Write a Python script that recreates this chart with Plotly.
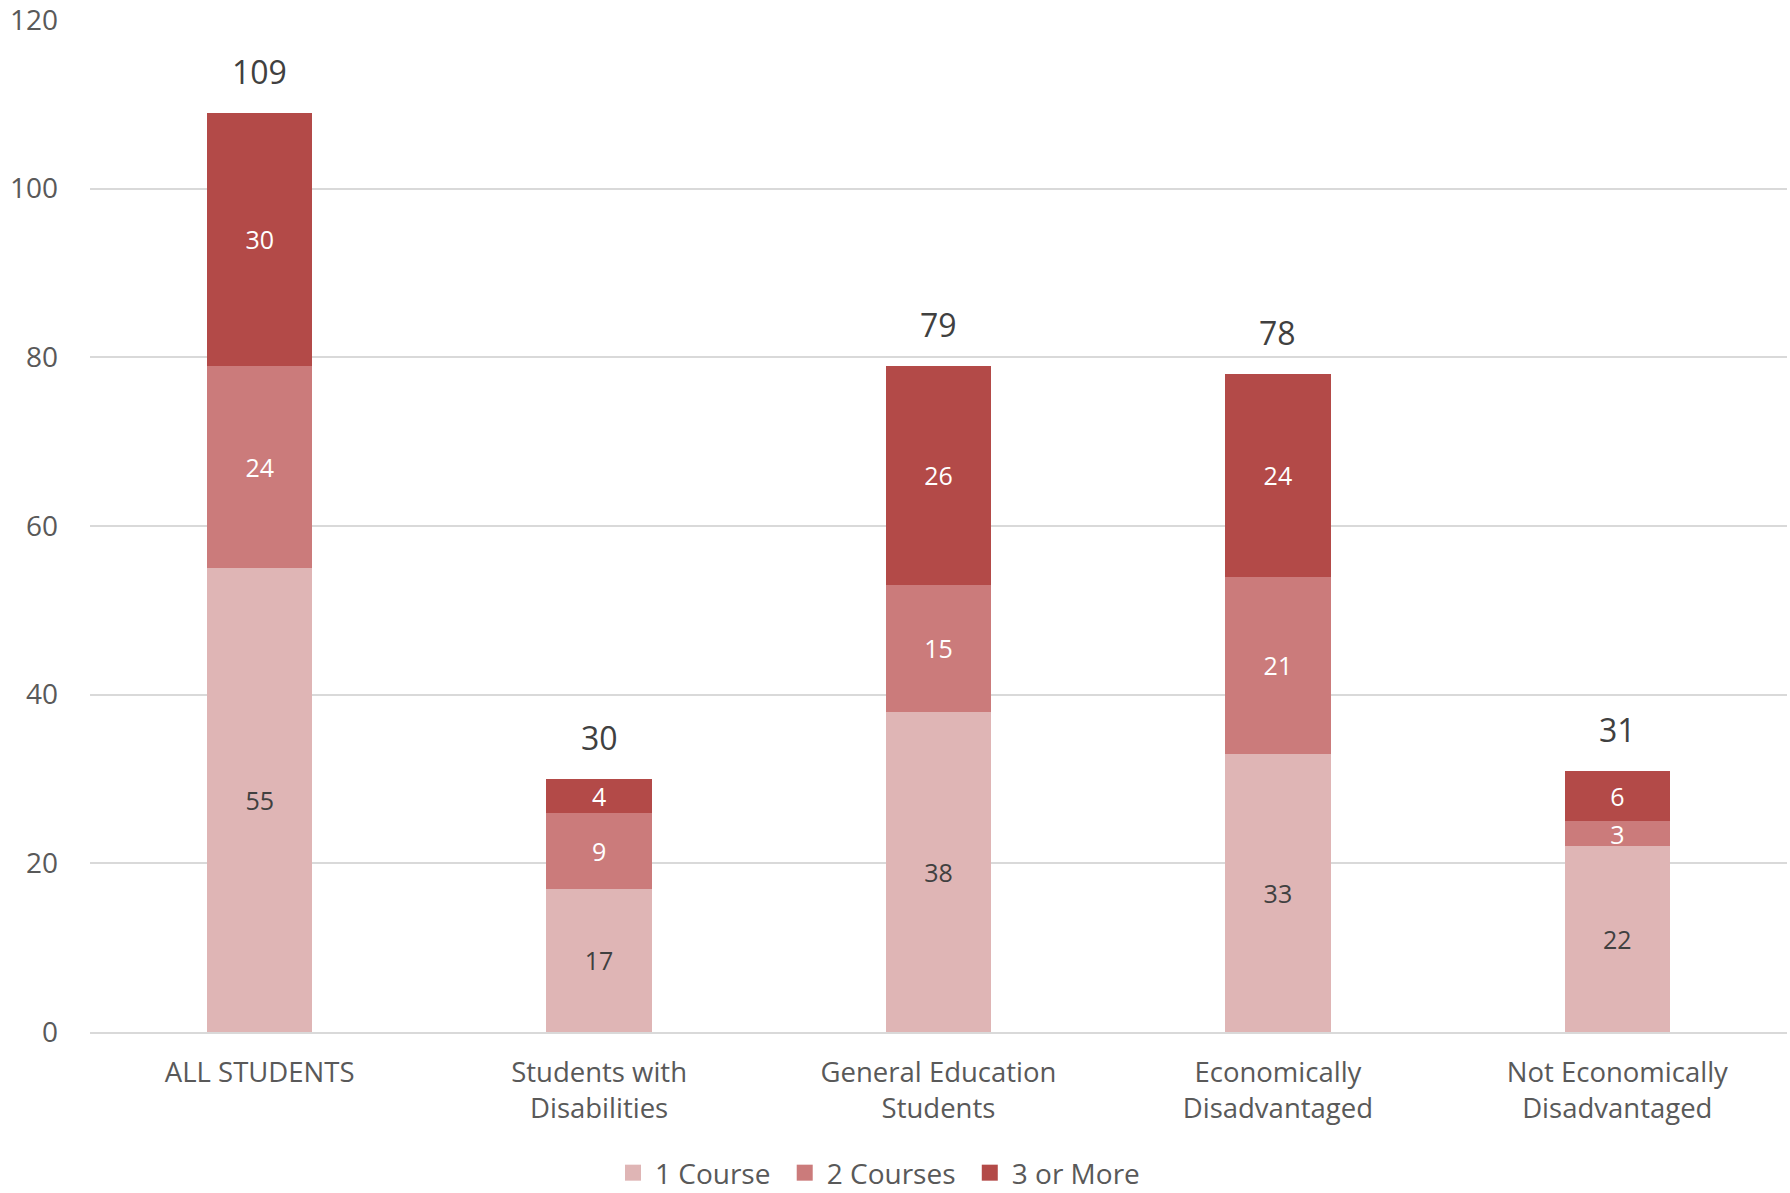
import plotly.graph_objects as go

categories = ["ALL STUDENTS", "Students with<br>Disabilities", "General Education<br>Students",
              "Economically<br>Disadvantaged", "Not Economically<br>Disadvantaged"]
one_course = [55, 17, 38, 33, 22]
two_courses = [24, 9, 15, 21, 3]
three_or_more = [30, 4, 26, 24, 6]
totals = [109, 30, 79, 78, 31]
y_ticks = [0, 20, 40, 60, 80, 100, 120]
legend_names = ["1 Course\u00a0", "2 Courses\u00a0", "3 or More"]

FONT = "Open Sans"
fig = go.Figure()
series = [
    ("1 Course", one_course, "#DFB5B5", "#404040"),
    ("2 Courses", two_courses, "#CB7B7B", "#FFFFFF"),
    ("3 or More", three_or_more, "#B34A48", "#FFFFFF"),
]
for name, vals, col, tcol in series:
    fig.add_trace(go.Bar(
        x=categories, y=vals, name=name, showlegend=False,
        marker=dict(color=col, line=dict(width=0)),
        text=vals, texttemplate="%{text}", textposition="inside",
        insidetextanchor="middle", textangle=0,
        textfont=dict(color=tcol, size=25, family=FONT),
        hoverinfo="skip",
    ))
# legend entries with square swatches
for (name, vals, col, tcol), lname in zip(series, legend_names):
    fig.add_trace(go.Scatter(
        x=[None], y=[None], mode="markers", name=lname,
        marker=dict(symbol="square", size=17, color=col),
        hoverinfo="skip",
    ))

for c, t in zip(categories, totals):
    fig.add_annotation(x=c, y=t, text=str(t), showarrow=False,
                       yanchor="bottom", yshift=18,
                       font=dict(size=32, color="#404040", family=FONT))

fig.update_layout(
    barmode="stack",
    bargap=0.69,
    width=1790, height=1193,
    margin=dict(l=90, r=3, t=20, b=161, autoexpand=False),
    paper_bgcolor="white", plot_bgcolor="white",
    font=dict(family=FONT, color="#595959", size=28),
    uniformtext=dict(minsize=25, mode="show"),
    legend=dict(orientation="h", xref="container", x=0.4905, xanchor="center",
                y=-0.1393, yanchor="middle", itemwidth=34,
                font=dict(size=28, color="#595959", family=FONT), traceorder="normal"),
    showlegend=True,
)
fig.update_xaxes(showline=True, linecolor="#D9D9D9", linewidth=2,
                 tickfont=dict(size=27.5, color="#595959", family=FONT),
                 ticks="", ticklabelstandoff=15)
fig.update_yaxes(range=[0, 120], tickvals=y_ticks, showgrid=True,
                 gridcolor="#D9D9D9", gridwidth=2, zeroline=False,
                 tickfont=dict(size=28, color="#595959", family=FONT),
                 ticks="", ticklabelstandoff=31, ticklabeloverflow="allow")

fig.write_html("out.html", config={"displayModeBar": False},
               post_script="document.body.style.margin='0';")
